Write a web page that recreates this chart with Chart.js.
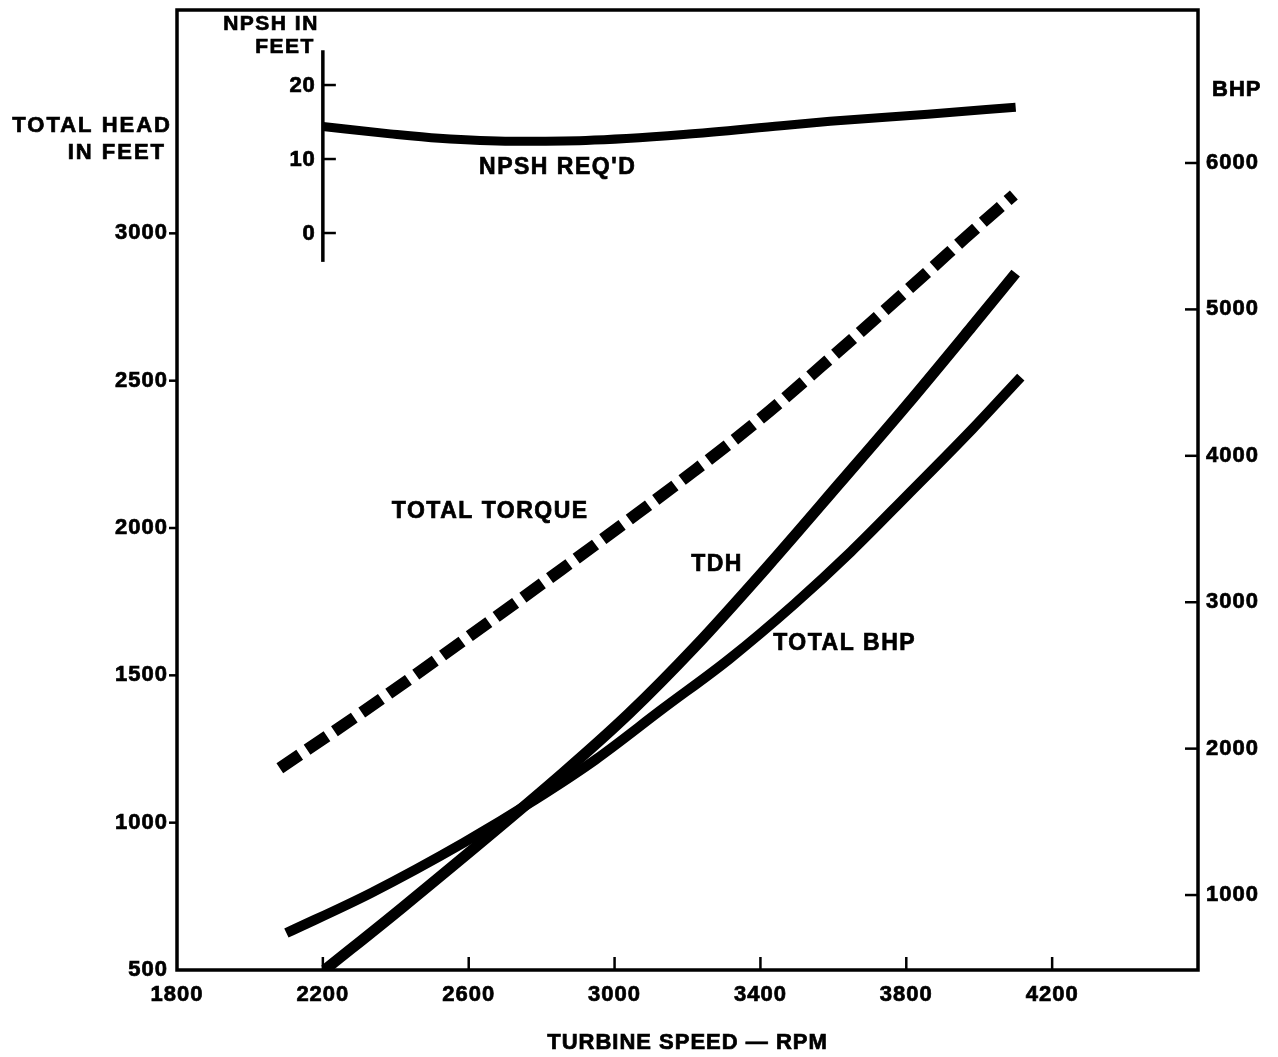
<!DOCTYPE html>
<html>
<head>
<meta charset="utf-8">
<title>Turbine speed curves</title>
<script src="https://cdn.jsdelivr.net/npm/chart.js@4.4.1/dist/chart.umd.min.js"></script>
<style>
  html, body { margin: 0; padding: 0; background: #fff; }
  #wrap { width: 1278px; height: 1057px; }
</style>
</head>
<body>
<div id="wrap"><canvas id="curves" width="1278" height="1057"></canvas></div>
<script>
// tick labels
const rpmTicks = [1800, 2200, 2600, 3000, 3400, 3800, 4200];
const headTicks = [500, 1000, 1500, 2000, 2500, 3000];
const bhpTicks = [1000, 2000, 3000, 4000, 5000, 6000];
const npshTicks = [0, 10, 20];

// curves (rpm / value)
const tdhRpm = [2205, 2420, 2859, 3041, 3220, 3420, 3618, 3800, 3979, 4100];
const tdhFeet = [500, 714, 1169, 1372, 1596, 1870, 2153, 2415, 2682, 2865];

const bhpRpm = [2100, 2333, 2586, 2785, 2948, 3131, 3313, 3493, 3648, 3802, 3982, 4114];
const bhpValues = [740, 1015, 1357, 1656, 1925, 2270, 2609, 2987, 3344, 3729, 4185, 4538];

const torqueRpm = [2082, 2308, 2452, 2744, 2853, 3035, 3215, 3397, 3614, 3731, 3873, 3960, 4095];
const torqueValues = [1185, 1375, 1500, 1760, 1858, 2024, 2191, 2368, 2600, 2728, 2885, 2983, 3130];

const npshRpm = [2200, 2385, 2519, 2720, 2921, 3189, 3457, 3591, 3859, 4100];
const npshFeet = [14.4, 13.4, 12.8, 12.4, 12.5, 13.3, 14.5, 15.1, 16.05, 17.0];

const pts = (xs, ys) => xs.map((x, i) => ({ x, y: ys[i] }));

const FONT = '"Liberation Sans", Arial, Helvetica, sans-serif';
const tickFont = { family: FONT, size: 22, weight: "bold" };

// inset NPSH scale sits on the 2200 rpm line
const npshAxisAt = 2200;
const npshAxisSpan = [-3.9, 24.7];

const curveLabels = [
  { text: "NPSH REQ'D", x: 2844, y: 8.9, axis: "npsh" },
  { text: "TOTAL TORQUE", x: 2659, y: 2057, axis: "y" },
  { text: "TDH", x: 3281, y: 1874, axis: "y" },
  { text: "TOTAL BHP", x: 3631, y: 1606, axis: "y" }
];

function seg(ctx, x1, y1, x2, y2) {
  ctx.beginPath();
  ctx.moveTo(x1, y1);
  ctx.lineTo(x2, y2);
  ctx.stroke();
}

function label(ctx, text, x, y, align, spacing) {
  ctx.letterSpacing = (spacing ?? 2) + "px";
  ctx.textAlign = align;
  ctx.lineWidth = 0.7;
  ctx.fillText(text, x, y);
  ctx.strokeText(text, x, y);
}

const sheet = {
  id: "sheet",
  beforeDraw(chart) {
    chart.ctx.letterSpacing = "1px";
  },
  afterDraw(chart) {
    const { ctx, chartArea: a, scales } = chart;
    ctx.save();
    ctx.strokeStyle = "#000";
    ctx.fillStyle = "#000";
    ctx.lineCap = "butt";

    ctx.lineWidth = 3.5;
    ctx.strokeRect(a.left, a.top, a.right - a.left, a.bottom - a.top);

    ctx.lineWidth = 2.5;
    headTicks.slice(1).forEach((v) => {
      const y = scales.y.getPixelForValue(v);
      seg(ctx, a.left - 8, y, a.left, y);
    });
    bhpTicks.forEach((v) => {
      const y = scales.y2.getPixelForValue(v);
      seg(ctx, a.right - 13, y, a.right, y);
    });
    rpmTicks.slice(1).forEach((v) => {
      const x = scales.x.getPixelForValue(v);
      seg(ctx, x, a.bottom, x, a.bottom - 13);
    });

    // inset NPSH axis
    const ix = scales.x.getPixelForValue(npshAxisAt);
    ctx.lineWidth = 3.5;
    seg(ctx, ix, scales.npsh.getPixelForValue(npshAxisSpan[1]), ix, scales.npsh.getPixelForValue(npshAxisSpan[0]));
    ctx.font = `bold 22px ${FONT}`;
    ctx.textBaseline = "middle";
    npshTicks.forEach((v) => {
      const y = scales.npsh.getPixelForValue(v);
      ctx.lineWidth = 2.5;
      seg(ctx, ix, y, ix + 13, y);
      label(ctx, String(v), ix - 7, y + 1, "right", 1);
    });

    ctx.font = `bold 21px ${FONT}`;
    label(ctx, "NPSH IN", ix - 4, 24, "right", 1.5);
    label(ctx, "FEET", ix - 8, 47, "right", 1.5);

    ctx.font = `bold 22px ${FONT}`;
    label(ctx, "TOTAL HEAD", a.left - 5, 126, "right", 2);
    label(ctx, "IN FEET", a.left - 11, 153, "right", 2);
    label(ctx, "BHP", a.right + 14, 90, "left", 1);
    label(ctx, "TURBINE SPEED — RPM", (a.left + a.right) / 2, 1043, "center", 1);

    ctx.font = `bold 23px ${FONT}`;
    curveLabels.forEach((l) => {
      label(ctx, l.text, scales.x.getPixelForValue(l.x), scales[l.axis].getPixelForValue(l.y), "center", 1.5);
    });
    ctx.restore();
  }
};

const hidden = { grid: { display: false, drawTicks: false }, border: { display: false } };
const tickStyle = { color: "#000", font: tickFont, textStrokeColor: "#000", textStrokeWidth: 0.7, callback: (v) => String(v) };
const noPad = (s) => { s.paddingTop = 0; s.paddingBottom = 0; s.paddingLeft = 0; s.paddingRight = 0; };

new Chart(document.getElementById("curves"), {
  type: "line",
  data: {
    datasets: [
      {
        label: "NPSH REQ'D",
        data: pts(npshRpm, npshFeet),
        yAxisID: "npsh",
        borderColor: "#000",
        borderWidth: 9,
        borderCapStyle: "butt",
        pointRadius: 0,
        cubicInterpolationMode: "monotone"
      },
      {
        label: "TOTAL TORQUE",
        data: pts(torqueRpm, torqueValues),
        yAxisID: "y",
        borderColor: "#000",
        borderWidth: 12,
        borderDash: [24, 9],
        borderCapStyle: "butt",
        pointRadius: 0,
        cubicInterpolationMode: "monotone"
      },
      {
        label: "TDH",
        data: pts(tdhRpm, tdhFeet),
        yAxisID: "y",
        borderColor: "#000",
        borderWidth: 11,
        borderCapStyle: "butt",
        pointRadius: 0,
        cubicInterpolationMode: "monotone",
        clip: 0
      },
      {
        label: "TOTAL BHP",
        data: pts(bhpRpm, bhpValues),
        yAxisID: "y2",
        borderColor: "#000",
        borderWidth: 10,
        borderCapStyle: "butt",
        pointRadius: 0,
        cubicInterpolationMode: "monotone"
      }
    ]
  },
  options: {
    responsive: false,
    animation: false,
    layout: { padding: { top: 10, left: 0, right: 0, bottom: 0 } },
    plugins: { legend: { display: false }, tooltip: { enabled: false } },
    scales: {
      x: {
        type: "linear",
        position: "bottom",
        min: 1800,
        max: 4600,
        ...hidden,
        afterBuildTicks: (s) => { s.ticks = rpmTicks.map((value) => ({ value })); },
        afterFit: (s) => { s.height = 87; noPad(s); },
        ticks: { ...tickStyle, padding: 12, maxRotation: 0, autoSkip: false }
      },
      y: {
        position: "left",
        min: 500,
        max: 3758,
        ...hidden,
        afterBuildTicks: (s) => { s.ticks = headTicks.map((value) => ({ value })); },
        afterFit: (s) => { s.width = 177; noPad(s); },
        ticks: { ...tickStyle, padding: 9 }
      },
      y2: {
        position: "right",
        min: 488,
        max: 7045,
        ...hidden,
        afterBuildTicks: (s) => { s.ticks = bhpTicks.map((value) => ({ value })); },
        afterFit: (s) => { s.width = 80; noPad(s); },
        ticks: { ...tickStyle, padding: 8 }
      },
      npsh: {
        display: false,
        position: "left",
        min: -99.6,
        max: 30.14
      }
    }
  },
  plugins: [sheet]
});
</script>
</body>
</html>
